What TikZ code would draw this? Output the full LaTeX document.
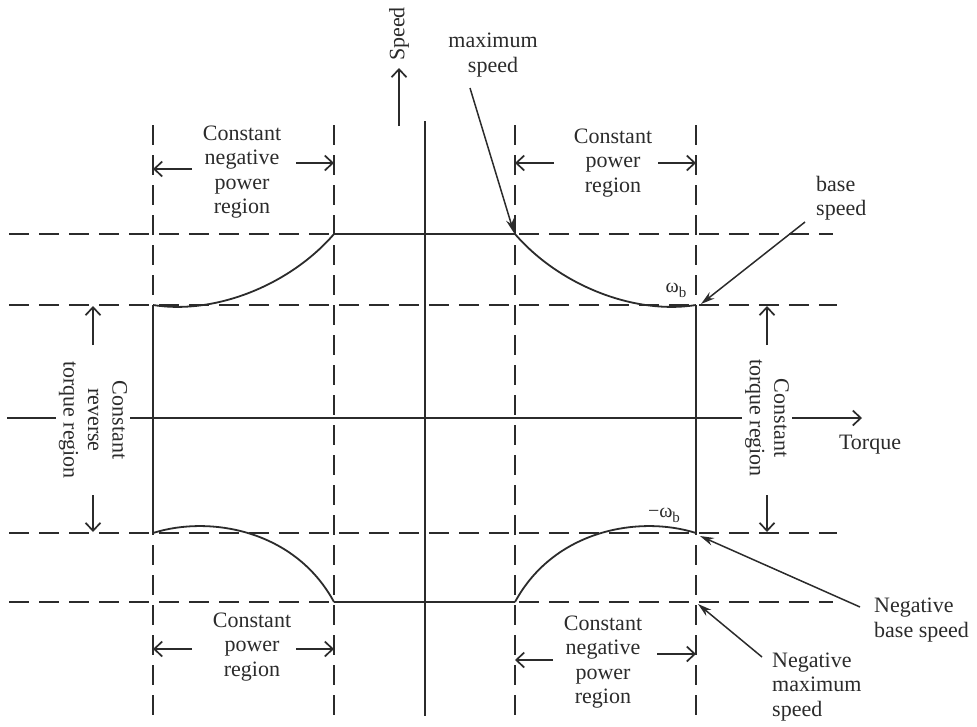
\documentclass[tikz,border=0pt]{standalone}
\usepackage{fontspec}
\setmainfont{Liberation Serif}
\usetikzlibrary{arrows.meta}
\definecolor{ink}{HTML}{2B2B2B}
\begin{document}
\begin{tikzpicture}[x=1pt,y=-1pt,
  guide/.style={draw=ink,line width=1.7pt,dash pattern=on 20pt off 10pt},
  solid line/.style={draw=ink,line width=1.8pt},
  span/.style={draw=ink,line width=1.7pt,-{Straight Barb[length=8pt,width=15pt,line width=1.7pt]}},
  pointer/.style={draw=ink,line width=1.5pt,-{Stealth[length=14pt,width=8pt]}},
  lbl/.style={text=ink,font=\fontsize{22}{24.5}\selectfont,align=center,inner sep=0pt},
  sidelbl/.style={lbl,rotate=-90,fill=white,inner sep=3pt}]

\useasboundingbox (0,0) rectangle (977,726);

% key points of the speed-torque envelope
\coordinate (wmaxL) at (334,234);  \coordinate (wmaxR) at (515,234);
\coordinate (wbL)   at (153,305);  \coordinate (wbR)   at (696,305);
\coordinate (nwbL)  at (153,533);  \coordinate (nwbR)  at (696,533);
\coordinate (nwmaxL) at (334,602); \coordinate (nwmaxR) at (515,602);

% dashed guide lines
\draw[guide] (9,234) -- (833,234);
\draw[guide] (9,305) -- (837,305);
\draw[guide] (9,533) -- (837,533);
\draw[guide] (9,602) -- (833,602);
\foreach \x in {153,334,515,696}
  \draw[guide] (\x,125) -- (\x,717);

% axes
\coordinate (vaxT) at (425,121); \coordinate (vaxB) at (425,716);
\draw[solid line] (vaxT) -- (vaxB);
\coordinate (haxL) at (7,418); \coordinate (haxR) at (862,418);
\draw[span] (haxL) -- (haxR);
\coordinate (spdA) at (399,126); \coordinate (spdB) at (399,68);
\draw[span] (spdA) -- (spdB);

% envelope
\draw[solid line] (wmaxL) -- (wmaxR);
\draw[solid line] (nwmaxL) -- (nwmaxR);
\draw[solid line] (wbL) -- (nwbL);
\draw[solid line] (wbR) -- (nwbR);
\draw[solid line] (wbL) .. controls (215,315) and (290,285) .. (wmaxL);
\draw[solid line] (wbR) .. controls (634,315) and (559,285) .. (wmaxR);
\draw[solid line] (nwbL) .. controls (210,515) and (295,530) .. (nwmaxL);
\draw[solid line] (nwbR) .. controls (639,515) and (554,530) .. (nwmaxR);

% region spans
\draw[span] (192,169) -- (153,169);  \draw[span] (296,163) -- (334,163);
\draw[span] (554,163) -- (515,163);  \draw[span] (658,163) -- (696,163);
\draw[span] (192,649) -- (153,649);  \draw[span] (296,649) -- (334,649);
\draw[span] (553,660) -- (515,660);  \draw[span] (657,654) -- (696,654);
\draw[span] (93,345) -- (93,306);    \draw[span] (93,495) -- (93,532);
\draw[span] (767,345) -- (767,306);  \draw[span] (767,495) -- (767,532);

% labels
\node[lbl] (negpowT) at (242,172) {Constant\\negative\\power\\region};
\node[lbl] (powT) at (613,163) {Constant\\power\\region};
\node[lbl] (powB) at (252,647) {Constant\\power\\region};
\node[lbl] (negpowB) at (603,662) {Constant\\negative\\power\\region};
\node[sidelbl] (revtq) at (93,420) {Constant\\reverse\\torque region};
\node[sidelbl] (tq) at (767,418) {Constant\\torque region};
\node[lbl,rotate=90] (speed) at (399,34) {Speed};
\node[lbl] (torque) at (870,445) {Torque};
\node[lbl] (maxspd) at (493,55) {maximum\\speed};
\node[lbl,align=left,anchor=west] (basespd) at (816,198) {base\\speed};
\node[lbl,align=left,anchor=west] (negbase) at (874,620) {Negative\\base speed};
\node[lbl,align=left,anchor=west] (negmax) at (772,687) {Negative\\maximum\\speed};
\node[lbl,font=\fontsize{20}{20}\selectfont] (wb) at (676,290)
  {ω\raisebox{-5pt}{\fontsize{15}{15}\selectfont b}};
\node[lbl,font=\fontsize{20}{20}\selectfont] (nwb) at (664,515)
  {−ω\raisebox{-5pt}{\fontsize{15}{15}\selectfont b}};

% pointers to the marked speeds
\coordinate (pA) at (470,88);  \coordinate (pAt) at (514,233);
\coordinate (pB) at (805,222); \coordinate (pBt) at (701,304);
\coordinate (pC) at (860,607); \coordinate (pCt) at (700,536);
\coordinate (pD) at (762,657); \coordinate (pDt) at (698,604);
\draw[pointer] (pA) -- (pAt);
\draw[pointer] (pB) -- (pBt);
\draw[pointer] (pC) -- (pCt);
\draw[pointer] (pD) -- (pDt);
\end{tikzpicture}
\end{document}
